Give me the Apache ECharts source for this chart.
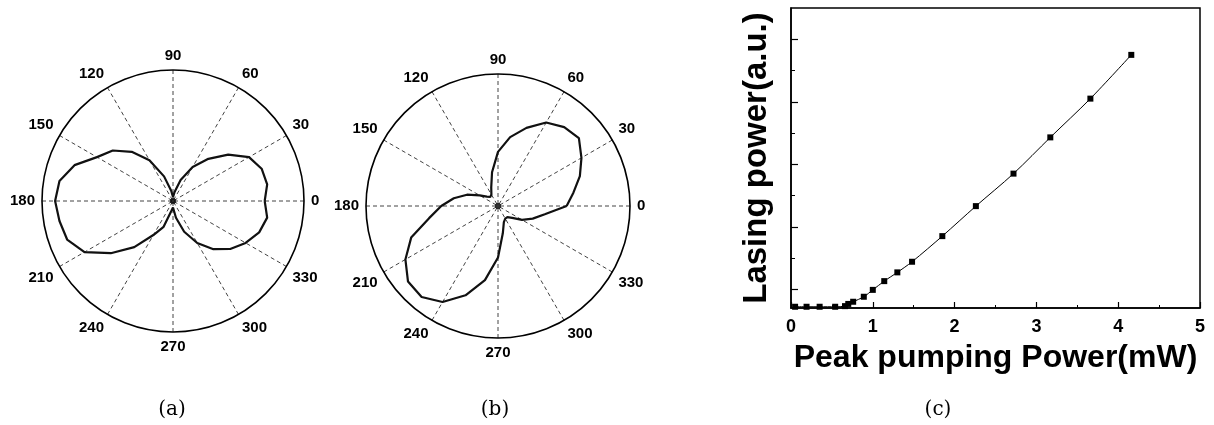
<!DOCTYPE html>
<html>
<head>
<meta charset="utf-8">
<script src="https://cdn.jsdelivr.net/npm/echarts@6/dist/echarts.min.js"></script>
<style>html,body{margin:0;padding:0;background:#fff;}#c{width:1214px;height:425px;}</style>
</head>
<body>
<div id="c"></div>
<script>
// ---- Data ----
const anglesDeg = [0,10,20,30,40,50,60,70,80,90,100,110,120,130,140,150,160,170,180,190,200,210,220,230,240,250,260,270,280,290,300,310,320,330,340,350,360];
const radiusA = [0.70,0.73,0.72,0.67,0.55,0.42,0.30,0.17,0.07,0.03,0.08,0.20,0.36,0.49,0.60,0.67,0.80,0.88,0.90,0.88,0.86,0.78,0.62,0.46,0.30,0.21,0.08,0.05,0.13,0.25,0.37,0.48,0.57,0.64,0.70,0.73,0.70];
const radiusB = [0.52,0.58,0.66,0.73,0.80,0.78,0.73,0.63,0.53,0.41,0.26,0.15,0.10,0.09,0.11,0.16,0.25,0.34,0.43,0.53,0.70,0.81,0.89,0.90,0.84,0.72,0.57,0.39,0.21,0.13,0.11,0.11,0.14,0.21,0.28,0.36,0.52];
const pumpPower = [0.05,0.19,0.35,0.54,0.66,0.70,0.76,0.89,1.00,1.14,1.30,1.48,1.85,2.26,2.72,3.17,3.66,4.16];
const lasingPower = [-0.28,-0.28,-0.28,-0.28,-0.27,-0.235,-0.20,-0.12,-0.01,0.13,0.27,0.44,0.85,1.33,1.85,2.43,3.05,3.75];
const xTicks = [0,1,2,3,4,5];
const yMajorTicks = [0,1,2,3,4];
const yMinorTicks = [0.5,1.5,2.5,3.5];
const captions = ['(a)','(b)','(c)'];
const xTitle = 'Peak pumping Power(mW)';
const yTitle = 'Lasing power(a.u.)';

const chart = echarts.init(document.getElementById('c'), null, {renderer:'canvas'});
const sans = 'Liberation Sans, Arial, sans-serif';

function angleAxis(idx){
  return {
    polarIndex: idx, type:'value', min:0, max:360, interval:30, startAngle:0, clockwise:false,
    axisLine:{show:true, lineStyle:{color:'#000', width:1.6}},
    axisTick:{show:false},
    axisLabel:{show:true, margin:7, color:'#000', fontFamily:sans, fontWeight:'bold', fontSize:15,
      formatter: v => (v === 360 ? '' : String(v))},
    splitLine:{show:true, lineStyle:{color:'#444', type:[4,3], width:1}}
  };
}
function radiusAxis(idx){
  return {polarIndex: idx, type:'value', min:0, max:1, axisLine:{show:false}, axisTick:{show:false}, axisLabel:{show:false}, splitLine:{show:false}};
}
function polarData(r){ return r.map((v,i)=>[v, anglesDeg[i]]); }

const option = {
  backgroundColor:'#fff',
  animation:false,
  polar:[
    {center:[173,201], radius:131},
    {center:[498,206], radius:132}
  ],
  angleAxis:[angleAxis(0), angleAxis(1)],
  radiusAxis:[radiusAxis(0), radiusAxis(1)],
  grid:{left:791, top:8, width:409, height:300, show:true, borderColor:'#000', borderWidth:1.5, backgroundColor:'transparent'},
  xAxis:[{
    type:'value', min:xTicks[0], max:xTicks[xTicks.length-1], interval:1,
    name:xTitle, nameLocation:'middle', nameGap:34,
    nameTextStyle:{color:'#000', fontFamily:sans, fontWeight:'bold', fontSize:32},
    axisLine:{onZero:false, lineStyle:{color:'#000', width:1.5}},
    axisTick:{inside:true, length:6, lineStyle:{color:'#000', width:1.2}},
    minorTick:{show:true, splitNumber:2, length:3, lineStyle:{color:'#000', width:1}},
    axisLabel:{color:'#000', fontFamily:sans, fontWeight:'bold', fontSize:18, margin:10},
    splitLine:{show:false}
  }],
  yAxis:[{
    type:'value', min:-0.3, max:4.5,
    name:yTitle, nameLocation:'middle', nameGap:18,
    nameTextStyle:{color:'#000', fontFamily:sans, fontWeight:'bold', fontSize:33},
    axisLine:{onZero:false, lineStyle:{color:'#000', width:1.5}},
    axisTick:{inside:true, length:7, customValues:yMajorTicks, lineStyle:{color:'#000', width:1.2}},
    axisLabel:{show:false},
    splitLine:{show:false}
  },{
    type:'value', min:-0.3, max:4.5, position:'left',
    axisLine:{show:false, onZero:false},
    axisTick:{show:true, inside:true, length:4, customValues:yMinorTicks, lineStyle:{color:'#000', width:1}},
    axisLabel:{show:false},
    splitLine:{show:false}
  }],
  graphic: [
    {type:'text', x:172, y:410, style:{text:captions[0], font:'20px "DejaVu Serif", serif', fill:'#000', textAlign:'center', textVerticalAlign:'middle'}},
    {type:'text', x:495, y:410, style:{text:captions[1], font:'20px "DejaVu Serif", serif', fill:'#000', textAlign:'center', textVerticalAlign:'middle'}},
    {type:'text', x:938, y:410, style:{text:captions[2], font:'20px "DejaVu Serif", serif', fill:'#000', textAlign:'center', textVerticalAlign:'middle'}}
  ],
  series:[
    {type:'line', coordinateSystem:'polar', polarIndex:0, data:polarData(radiusA), showSymbol:false, lineStyle:{color:'#111', width:2.2}},
    {type:'line', coordinateSystem:'polar', polarIndex:1, data:polarData(radiusB), showSymbol:false, lineStyle:{color:'#111', width:2.2}},
    {type:'scatter', coordinateSystem:'polar', polarIndex:0, data:[[0,0]], symbolSize:6, itemStyle:{color:'#000'}},
    {type:'scatter', coordinateSystem:'polar', polarIndex:1, data:[[0,0]], symbolSize:6, itemStyle:{color:'#000'}},
    {type:'line', xAxisIndex:0, yAxisIndex:0, data:pumpPower.map((x,i)=>[x, lasingPower[i]]), smooth:0.3,
      symbol:'rect', symbolSize:6, showSymbol:true, itemStyle:{color:'#000'}, lineStyle:{color:'#000', width:1}}
  ]
};
chart.setOption(option);
</script>
</body>
</html>
